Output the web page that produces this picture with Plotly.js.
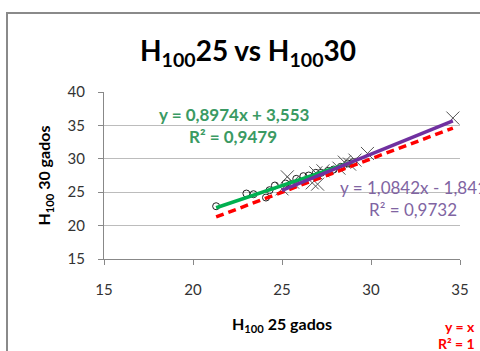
<!DOCTYPE html>
<html>
<head>
<meta charset="utf-8">
<script src="https://cdn.plot.ly/plotly-3.0.1.min.js"></script>
<style>html,body{margin:0;padding:0;background:#fff;}#chart{width:480px;height:351px;}</style>
</head>
<body>
<div id="chart"></div>
<script>
// Series 1: circles (green trendline)
const circX = [21.3, 23.0, 23.4, 24.1, 24.3, 24.6, 25.2, 25.5, 25.8, 26.2, 26.5, 26.9, 27.2, 27.6, 27.9, 28.3, 28.7, 29.0];
const circY = [22.9, 24.8, 24.7, 24.2, 25.3, 26.0, 26.3, 26.2, 27.0, 27.4, 27.5, 27.9, 27.9, 28.2, 28.4, 28.8, 29.3, 29.5];
// Series 2: crosses (purple trendline)
const crossX = [25.0, 25.3, 25.6, 26.7, 26.9, 27.0, 27.3, 28.2, 28.5, 28.8, 29.1, 29.8, 34.6];
const crossY = [25.5, 27.3, 26.5, 26.4, 27.9, 26.2, 28.2, 28.6, 29.5, 29.2, 29.8, 30.8, 36.1];
// Trendline coefficients
const greenFit = [0.8974, 3.553];
const purpleFit = [1.0842, -1.841];
const identityFit = [1, 0];
const xTicks = [15, 20, 25, 30, 35];
const yTicks = [15, 20, 25, 30, 35, 40];

function fitLine(coef, xs) {
  const x0 = Math.min(...xs), x1 = Math.max(...xs);
  return {x: [x0, x1], y: [coef[0] * x0 + coef[1], coef[0] * x1 + coef[1]]};
}
const allX = circX.concat(crossX);
const gL = fitLine(greenFit, circX);
const pL = fitLine(purpleFit, crossX);
const rL = fitLine(identityFit, allX);

const font = "Lato, 'Open Sans', sans-serif";

const traces = [
  {x: circX, y: circY, type: 'scatter', mode: 'markers', name: 'H100 25',
   marker: {symbol: 'circle-open', size: 7, color: '#222', line: {width: 1}}},
  {x: crossX, y: crossY, type: 'scatter', mode: 'markers', name: 'H100 30',
   marker: {symbol: 'x-thin-open', size: 13, color: '#555', line: {width: 1}}},
  {x: rL.x, y: rL.y, type: 'scatter', mode: 'lines', name: 'y = x',
   line: {color: '#ff0000', width: 3.5, dash: '8px,5px'}},
  {x: gL.x, y: gL.y, type: 'scatter', mode: 'lines', name: 'fit 1',
   line: {color: '#00b050', width: 3.5}},
  {x: pL.x, y: pL.y, type: 'scatter', mode: 'lines', name: 'fit 2',
   line: {color: '#7030a0', width: 3.5}}
];

const W = 356, H = 167, L = 104, T = 92;
function px(p) { return (p - L) / W; }
function py(p) { return (T + H - p) / H; }

const layout = {
  width: 480, height: 351,
  margin: {l: L, r: 480 - L - W, t: T, b: 351 - T - H},
  paper_bgcolor: '#fff', plot_bgcolor: '#fff',
  showlegend: false,
  font: {family: font, color: '#333', size: 15},
  title: {text: 'H<sub>100</sub>25 vs H<sub>100</sub>30', font: {family: font, size: 28, color: '#000', weight: 'bold'},
          x: 248 / 480, xref: 'container', xanchor: 'center', y: 1 - 51 / 351, yref: 'container', yanchor: 'middle'},
  xaxis: {range: [15, 35], tickvals: xTicks, ticktext: xTicks.map(String), showgrid: false, zeroline: false,
          showline: true, linecolor: '#888', linewidth: 1, ticks: 'outside', ticklen: 5, tickcolor: '#888',
          ticklabelstandoff: 12, tickfont: {size: 15, color: '#333'},
          title: {text: 'H<sub>100</sub> 25 gados', font: {size: 16, color: '#000', weight: 'bold'}, standoff: 21}},
  yaxis: {range: [15, 40], tickvals: yTicks, ticktext: yTicks.map(String), showgrid: true, gridcolor: '#bcbcbc',
          zeroline: false, showline: true, linecolor: '#888', linewidth: 1, ticks: 'outside', ticklen: 5, tickcolor: '#888',
          ticklabelstandoff: 10, tickfont: {size: 15, color: '#333'},
          title: {text: 'H<sub>100</sub> 30 gados', font: {size: 16, color: '#000', weight: 'bold'}, standoff: 12}},
  shapes: [
    {type: 'rect', xref: 'paper', yref: 'paper', x0: px(7), x1: px(495), y0: py(370), y1: py(13),
     line: {color: '#8a8a8a', width: 2}, fillcolor: 'rgba(0,0,0,0)', layer: 'below'}
  ],
  annotations: [
    {xref: 'paper', yref: 'paper', x: px(234), y: py(114), text: 'y = 0,8974x + 3,553', showarrow: false,
     xanchor: 'center', yanchor: 'middle', font: {size: 17, color: '#3a9a63', weight: 'bold'}},
    {xref: 'paper', yref: 'paper', x: px(233), y: py(136), text: 'R² = 0,9479', showarrow: false,
     xanchor: 'center', yanchor: 'middle', font: {size: 17, color: '#3a9a63', weight: 'bold'}},
    {xref: 'paper', yref: 'paper', x: px(413), y: py(187), text: 'y = 1,0842x - 1,841', showarrow: false,
     xanchor: 'center', yanchor: 'middle', font: {size: 17, color: '#8064a2'}},
    {xref: 'paper', yref: 'paper', x: px(413), y: py(209), text: 'R² = 0,9732', showarrow: false,
     xanchor: 'center', yanchor: 'middle', font: {size: 17, color: '#8064a2'}},
    {xref: 'paper', yref: 'paper', x: px(443), y: py(326), text: 'y = x', showarrow: false,
     xanchor: 'left', yanchor: 'middle', font: {size: 14, color: '#ff0000', weight: 'bold'}},
    {xref: 'paper', yref: 'paper', x: px(436), y: py(343), text: 'R² = 1', showarrow: false,
     xanchor: 'left', yanchor: 'middle', font: {size: 14, color: '#ff0000', weight: 'bold'}}
  ]
};

Plotly.newPlot('chart', traces, layout, {displayModeBar: false, staticPlot: true});
</script>
</body>
</html>
